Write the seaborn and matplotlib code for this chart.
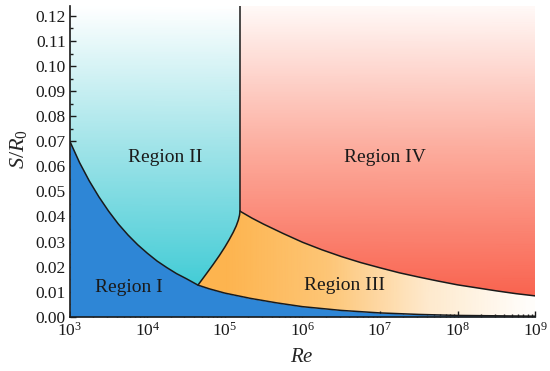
import numpy as np
import matplotlib
matplotlib.use("Agg")
import matplotlib.pyplot as plt
import seaborn as sns
from matplotlib.path import Path
from matplotlib.colors import LinearSegmentedColormap
from matplotlib.ticker import MultipleLocator, FormatStrFormatter, LogLocator, NullFormatter

# ----------------------------
# Boundaries (x given as log10 Re)
# ----------------------------
# Region I boundary (lower curve)
logre_low = [3.0, 3.125, 3.25, 3.375, 3.5, 3.625, 3.75, 3.875, 4.0, 4.125, 4.25, 4.375,
             4.5, 4.652, 4.8, 5.0, 5.33, 5.67, 6.0, 6.5, 7.0, 7.5, 8.0, 9.0]
s_low = [0.0700, 0.0615, 0.0542, 0.0478, 0.0421, 0.0370, 0.0326, 0.0287, 0.0253, 0.0222, 0.0196, 0.0172,
         0.0152, 0.0126, 0.0111, 0.0094, 0.0073, 0.0055, 0.0040, 0.0025, 0.0015, 0.0009, 0.0005, 0.0002]

# Region II / III boundary
logre_23 = [4.652, 4.755, 4.847, 4.928, 4.999, 5.058, 5.107, 5.145, 5.172, 5.188, 5.194]
s_23 = [0.0126, 0.0169, 0.0208, 0.0244, 0.0278, 0.0309, 0.0337, 0.0362, 0.0385, 0.0405, 0.0421]

# Region III / IV boundary
logre_up = [5.194, 5.35, 5.5, 5.75, 6.0, 6.25, 6.5, 6.75, 7.0, 7.25, 7.5, 7.75, 8.0, 8.25, 8.5, 8.75, 9.0]
s_up = [0.0421, 0.0393, 0.0369, 0.0332, 0.0297, 0.0267, 0.0240, 0.0216, 0.0195, 0.0175, 0.0158,
        0.0142, 0.0127, 0.0115, 0.0103, 0.0092, 0.0083]

# vertical II / IV boundary
logre_v = 5.194

labels = ["Region I", "Region II", "Region III", "Region IV"]
label_logre = [3.755, 4.226, 6.548, 7.065]
label_s = [0.0118, 0.0637, 0.0126, 0.0637]

re_low = 10 ** np.array(logre_low)
re_23 = 10 ** np.array(logre_23)
re_up = 10 ** np.array(logre_up)
re_v = 10 ** logre_v

# ----------------------------
# Style
# ----------------------------
sns.set_theme(style="ticks")
plt.rcParams["font.family"] = ["Liberation Serif", "DejaVu Serif"]
plt.rcParams["mathtext.fontset"] = "custom"
plt.rcParams["mathtext.rm"] = "Liberation Serif"
plt.rcParams["mathtext.it"] = "Liberation Serif:italic"

x_min, x_max = 1e3, 1e9
y_max = 0.124
ink = "#1a1a1a"

fig = plt.figure(figsize=(5.5, 3.71), dpi=100)
ax = fig.add_axes([0.127, 0.1464, 0.846, 0.8376])
ax.set_xscale("log")
ax.set_xlim(x_min, x_max)
ax.set_ylim(0, y_max)

# ----------------------------
# Region I: solid fill
# ----------------------------
ax.fill_between(re_low, s_low, 0, color="#2e86d6", lw=0, zorder=1)

# ----------------------------
# Gradient regions clipped to polygons
# ----------------------------
yy = np.linspace(0, y_max, 120)

# Region II (cyan -> white, vertical)
low_ii = [(r, s) for r, s in zip(re_low, s_low) if r <= re_23[0] * 1.001]
poly2 = [(x_min, y_max)] + low_ii + list(zip(re_23, s_23)) + [(re_v, y_max), (x_min, y_max)]
cmap2 = LinearSegmentedColormap.from_list("c2", ["#3fcbd5", "#9fe3e8", "#ffffff"])
m2 = ax.pcolormesh([x_min, re_v], yy, np.tile(yy[:, None], (1, 2)), cmap=cmap2,
                   vmin=0.01, vmax=y_max, shading="gouraud", zorder=0)
m2.set_clip_path(Path(poly2), ax.transData)

# Region IV (red -> white, vertical)
poly4 = list(zip(re_up, s_up)) + [(x_max, y_max), (re_v, y_max), (re_v, s_up[0])]
cmap4 = LinearSegmentedColormap.from_list("c4", ["#f9634f", "#fcab9c", "#fff9f7"])
m4 = ax.pcolormesh([re_v, x_max], yy, np.tile(yy[:, None], (1, 2)), cmap=cmap4,
                   vmin=0.008, vmax=y_max, shading="gouraud", zorder=0)
m4.set_clip_path(Path(poly4), ax.transData)

# Region III (orange -> white, horizontal)
low_iii = [(r, s) for r, s in zip(re_low, s_low) if r >= re_23[0] * 0.999]
poly3 = low_iii + list(zip(re_up, s_up))[::-1] + list(zip(re_23, s_23))[::-1]
xx = np.logspace(4.5, 9, 120)
cmap3 = LinearSegmentedColormap.from_list("c3", ["#fdb44f", "#fdc575", "#fee9cc", "#fffdfa"])
m3 = ax.pcolormesh(xx, [0, y_max], np.tile(np.log10(xx)[None, :], (2, 1)), cmap=cmap3,
                   vmin=5.0, vmax=8.9, shading="gouraud", zorder=0)
m3.set_clip_path(Path(poly3), ax.transData)

# ----------------------------
# Boundary lines
# ----------------------------
line_kw = dict(color=ink, linewidth=1.1, estimator=None, legend=False, zorder=3)
sns.lineplot(x=re_low, y=s_low, ax=ax, **line_kw)
sns.lineplot(x=re_23, y=s_23, ax=ax, **line_kw)
sns.lineplot(x=re_up, y=s_up, ax=ax, **line_kw)
ax.vlines(re_v, s_up[0], y_max, color=ink, linewidth=1.1, zorder=3)

for t, lx, sy in zip(labels, label_logre, label_s):
    ax.text(10 ** lx, sy, t, ha="center", va="center", fontsize=14, color=ink, zorder=4)

# ----------------------------
# Axes
# ----------------------------
ax.yaxis.set_major_locator(MultipleLocator(0.01))
ax.yaxis.set_minor_locator(MultipleLocator(0.005))
ax.yaxis.set_major_formatter(FormatStrFormatter("%.2f"))
ax.set_xticks(10.0 ** np.arange(3, 10))
ax.xaxis.set_minor_locator(LogLocator(base=10, subs=np.arange(2, 10), numticks=20))
ax.xaxis.set_minor_formatter(NullFormatter())
ax.set_xlim(x_min, x_max)
ax.set_ylim(0, y_max)

ax.tick_params(which="both", direction="in", colors=ink, labelsize=12.5, width=1)
ax.tick_params(which="major", length=4)
ax.tick_params(which="minor", length=2)
ax.tick_params(axis="x", pad=4)
ax.tick_params(axis="y", pad=3)

for side in ["top", "right"]:
    ax.spines[side].set_visible(False)
for side in ["left", "bottom"]:
    ax.spines[side].set_color(ink)
    ax.spines[side].set_linewidth(1.2)

ax.set_xlabel(r"$Re$", fontsize=15)
ax.set_ylabel(r"$S/R_\mathrm{0}$", fontsize=16)
ax.xaxis.set_label_coords(0.499, -0.10)
ax.yaxis.set_label_coords(-0.088, 0.54)

plt.savefig("out.png", dpi=100)
plt.close()
